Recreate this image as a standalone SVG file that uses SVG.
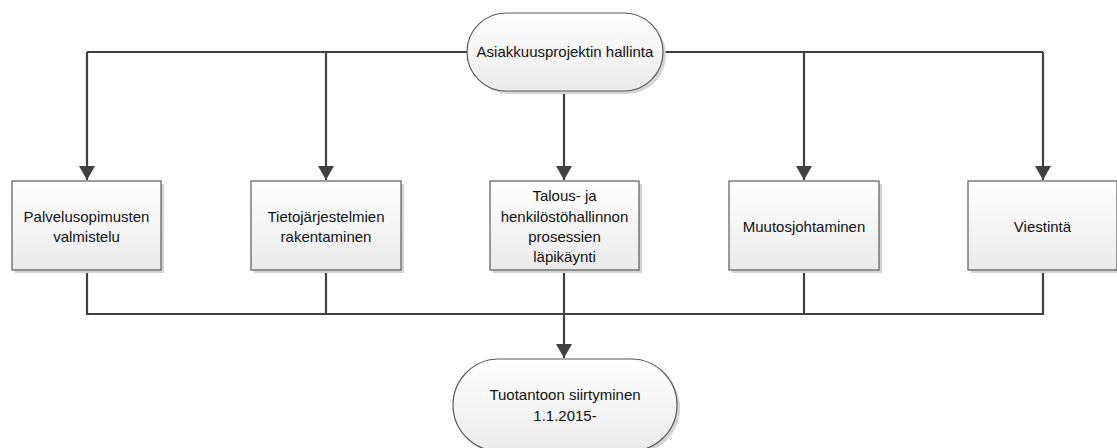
<svg xmlns="http://www.w3.org/2000/svg" width="1117" height="448" viewBox="0 0 1117 448">
<defs>
<linearGradient id="g" x1="0" y1="0" x2="0" y2="1">
<stop offset="0" stop-color="#ffffff"/>
<stop offset="1" stop-color="#ebebeb"/>
</linearGradient>
<marker id="arr" markerWidth="14" markerHeight="16" refX="14" refY="8" orient="auto" markerUnits="userSpaceOnUse">
<path d="M0,0 L14,8 L0,16 Z" fill="#404040"/>
</marker>
<style>
.box{fill:url(#g);stroke:#5a5a5a;stroke-width:1.2}
.sh{fill:#d4d4d4}
.c{fill:none;stroke:#404040;stroke-width:2.2}
text{font-family:"Liberation Sans",Arial,sans-serif;font-size:15px;fill:#111111;text-anchor:middle}
</style>
</defs>
<g id="connectors">
<path class="c" d="M87,52 H1043"/>
<path class="c" d="M87,52 V180" marker-end="url(#arr)"/>
<path class="c" d="M326,52 V180" marker-end="url(#arr)"/>
<path class="c" d="M564,91 V180" marker-end="url(#arr)"/>
<path class="c" d="M804,52 V180" marker-end="url(#arr)"/>
<path class="c" d="M1043,52 V180" marker-end="url(#arr)"/>
<path class="c" d="M87,270 V314 H1043 V270"/>
<path class="c" d="M326,270 V314"/>
<path class="c" d="M804,270 V314"/>
<path class="c" d="M564,270 V358" marker-end="url(#arr)"/>
</g>
<g id="start">
<rect class="sh" x="470" y="16" width="196" height="78" rx="39"/>
<rect class="box" x="467" y="13" width="196" height="78" rx="39"/>
<text x="565" y="57">Asiakkuusprojektin hallinta</text>
</g>
<g id="n1">
<rect class="sh" x="15" y="184" width="149" height="89"/>
<rect class="box" x="12" y="181" width="149" height="89"/>
<text x="86.5" y="222">Palvelusopimusten</text>
<text x="86.5" y="242">valmistelu</text>
</g>
<g id="n2">
<rect class="sh" x="254" y="184" width="150" height="89"/>
<rect class="box" x="251" y="181" width="150" height="89"/>
<text x="326" y="222">Tietojärjestelmien</text>
<text x="326" y="242">rakentaminen</text>
</g>
<g id="n3">
<rect class="sh" x="493" y="184" width="149" height="89"/>
<rect class="box" x="490" y="181" width="149" height="89"/>
<text x="564.5" y="201">Talous- ja</text>
<text x="564.5" y="222">henkilöstöhallinnon</text>
<text x="564.5" y="242">prosessien</text>
<text x="564.5" y="262">läpikäynti</text>
</g>
<g id="n4">
<rect class="sh" x="732" y="184" width="150" height="89"/>
<rect class="box" x="729" y="181" width="150" height="89"/>
<text x="804" y="232">Muutosjohtaminen</text>
</g>
<g id="n5">
<rect class="sh" x="971" y="184" width="149" height="89"/>
<rect class="box" x="968" y="181" width="149" height="89"/>
<text x="1042.5" y="232">Viestintä</text>
</g>
<g id="end">
<rect class="sh" x="456" y="362" width="224" height="92" rx="46"/>
<rect class="box" x="453" y="359" width="224" height="92" rx="46"/>
<text x="565" y="400">Tuotantoon siirtyminen</text>
<text x="565" y="421">1.1.2015-</text>
</g>
</svg>
